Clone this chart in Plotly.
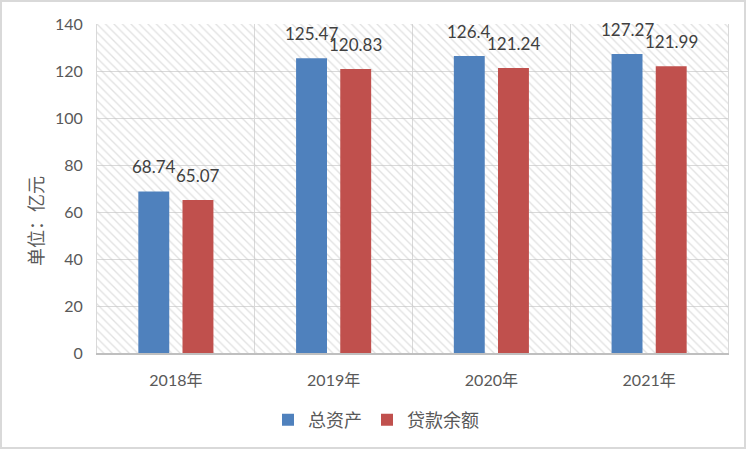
import plotly.graph_objects as go

# ---- data ----
categories = ["2018年", "2019年", "2020年", "2021年"]
total_assets = [68.74, 125.47, 126.4, 127.27]
loan_balance = [65.07, 120.83, 121.24, 121.99]
series_names = ["总资产", "贷款余额"]
y_ticks = [0, 20, 40, 60, 80, 100, 120, 140]
y_axis_title = "单位：亿元"

# ---- layout constants ----
W, H = 752, 452
ML, MR, MT, MB = 97, 24, 24, 99
PW, PH = W - ML - MR, H - MT - MB
BARGAP, BARGROUPGAP = 0.44, 0.30
FONT = "Lato, 'Noto Sans CJK SC', sans-serif"
TICK_COLOR = "#595959"
LABEL_COLOR = "#404040"
GRID = "#d9d9d9"
COLORS = ["#4f81bd", "#c0504d"]

y_max = y_ticks[-1]

fig = go.Figure()

# hatched plot background (main subplot, drawn below data)
fig.add_trace(go.Bar(
    x=categories, y=[y_max] * len(categories), width=1,
    marker=dict(color="rgba(0,0,0,0)", line_width=0,
                pattern=dict(shape="\\", fgcolor="#c4c4c4", bgcolor="rgba(0,0,0,0)",
                             size=6, solidity=0.22)),
    showlegend=False, hoverinfo="skip", xaxis="x", yaxis="y"))

for name, vals, col in zip(series_names, [total_assets, loan_balance], COLORS):
    fig.add_trace(go.Bar(x=categories, y=vals, name=name, marker_color=col,
                         marker_line_width=0, xaxis="x2", yaxis="y2"))

# data labels
slot = PW / len(categories) * (1 - BARGAP) / 2
offset = slot / 2
for vals, sign in ((total_assets, -1), (loan_balance, 1)):
    for c, v in zip(categories, vals):
        fig.add_annotation(x=c, y=v, xref="x2", yref="y2", text=f"{v:g}",
                           showarrow=False, xshift=sign * offset, yshift=12,
                           yanchor="bottom", xanchor="center",
                           font=dict(family=FONT, size=17, color=LABEL_COLOR))

# y axis title
fig.add_annotation(x=(36 - ML) / PW, y=(MT + PH - 221) / PH, xref="paper", yref="paper",
                   text=y_axis_title, textangle=-90, showarrow=False,
                   xanchor="center", yanchor="middle",
                   font=dict(family=FONT, size=18, color=TICK_COLOR))

# chart frame
fig.add_shape(type="rect", xref="paper", yref="paper",
              x0=(1 - ML) / PW, x1=(745 - ML) / PW,
              y0=(MT + PH - 448) / PH, y1=(MT + PH - 1) / PH,
              line=dict(color=GRID, width=2), fillcolor="rgba(0,0,0,0)", layer="below")

fig.update_layout(
    width=W, height=H,
    margin=dict(l=ML, r=MR, t=MT, b=MB),
    paper_bgcolor="white", plot_bgcolor="white",
    barmode="group", bargap=BARGAP, bargroupgap=BARGROUPGAP,
    font=dict(family=FONT, size=16, color=TICK_COLOR),
    xaxis=dict(type="category", categoryorder="array", categoryarray=categories,
               range=[-0.5, len(categories) - 0.5], tickson="boundaries",
               showgrid=True, gridcolor=GRID, gridwidth=1,
               showline=True, linecolor="#bfbfbf", linewidth=2,
               ticks="", ticklabelstandoff=12,
               tickfont=dict(family=FONT, size=16, color=TICK_COLOR)),
    yaxis=dict(range=[0, y_max], tickvals=y_ticks, showgrid=True, gridcolor=GRID,
               gridwidth=1, zeroline=False, showline=True, linecolor=GRID,
               linewidth=1, mirror=True, ticks="", ticklabelstandoff=10,
               tickfont=dict(family=FONT, size=16, color=TICK_COLOR)),
    xaxis2=dict(type="category", categoryorder="array", categoryarray=categories,
                range=[-0.5, len(categories) - 0.5], overlaying="x", anchor="y2",
                visible=False),
    yaxis2=dict(range=[0, y_max], overlaying="y", anchor="x2", visible=False),
    legend=dict(orientation="h", xref="container", yref="container",
                x=0.5, xanchor="center", y=1 - 420 / H, yanchor="middle",
                font=dict(family=FONT, size=18, color=TICK_COLOR),
                itemwidth=30, bgcolor="rgba(0,0,0,0)"),
    showlegend=True,
)

fig.write_html("out.html")
